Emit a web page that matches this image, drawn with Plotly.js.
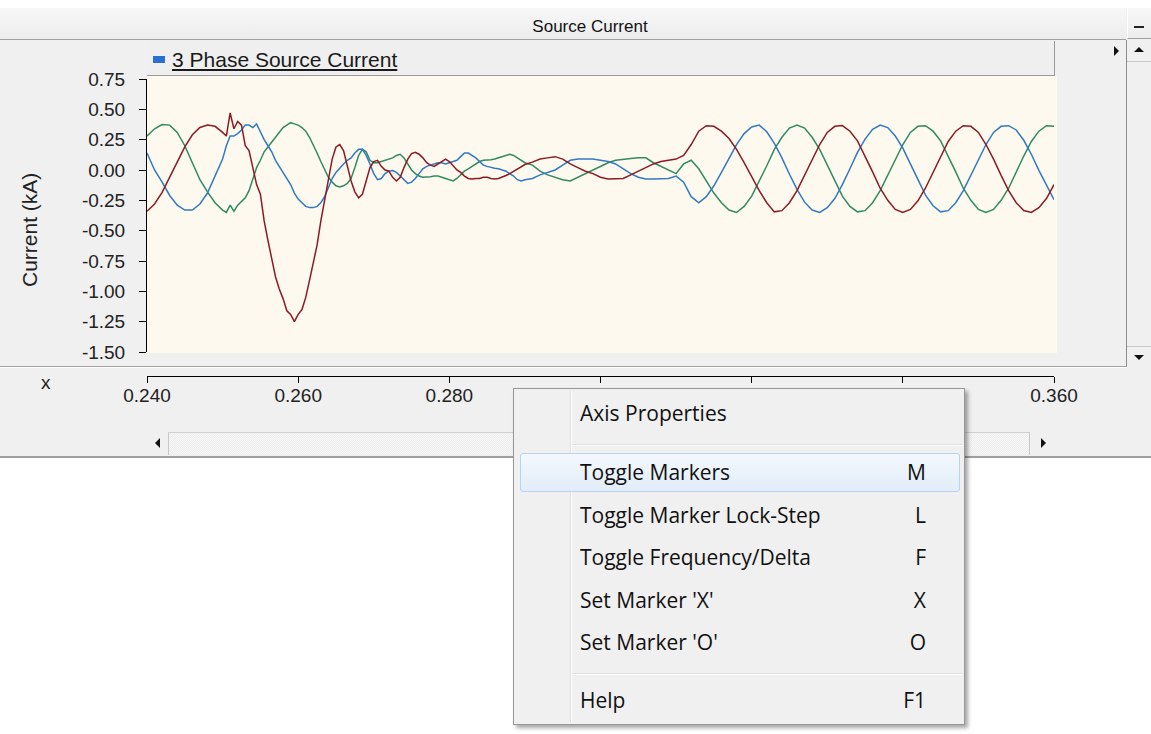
<!DOCTYPE html>
<html>
<head>
<meta charset="utf-8">
<script src="https://cdn.plot.ly/plotly-3.0.1.min.js"></script>
<style>
  html, body { margin:0; padding:0; }
  body { width:1151px; height:734px; position:relative; overflow:hidden; background:#ffffff; font-family:"Liberation Sans", Arial, sans-serif; }
  .abs { position:absolute; }
  #panel { left:0; top:8px; width:1151px; height:449px; background:#f0f0f0; }
  #titlebar { left:0; top:8px; width:1126px; height:31px; background:linear-gradient(#f8f8f8,#ececec); border-bottom:1px solid #a0a0a0; }
  #minbtn { left:1127px; top:8px; width:24px; height:31px; background:linear-gradient(#f8f8f8,#ececec); border-bottom:1px solid #a0a0a0; border-left:1px solid #ffffff; box-sizing:border-box; }
  #minbtn:after { content:""; position:absolute; left:6px; top:18px; width:10px; height:2px; background:#222; }
  #legendbar { left:147px; top:41px; width:907px; height:34px; background:#efefef; border-right:1px solid #9a9a9a; border-bottom:1px solid #9a9a9a; }
  #legendsw { left:153px; top:56px; width:12px; height:7px; background:#2d6fd1; }
  #legendtxt { left:172px; top:48px; font-size:21px; color:#1a1a1a; text-decoration:underline; white-space:nowrap; line-height:24px; }
  #cream { left:147px; top:76px; width:910px; height:277px; background:#fef9ee; }
  #vscroll { left:1126px; top:40px; width:25px; height:327px; background:#f0f0f0; border-left:1px solid #8c8c8c; box-sizing:border-box; }
  #vup { left:1127px; top:40px; width:24px; height:22px; border-bottom:1px solid #c8c8c8; box-sizing:border-box; }
  #vdn { left:1127px; top:346px; width:24px; height:21px; border-top:1px solid #c8c8c8; box-sizing:border-box; }
  .tri-up { width:0; height:0; border-left:5px solid transparent; border-right:5px solid transparent; border-bottom:5px solid #111; }
  .tri-dn { width:0; height:0; border-left:5px solid transparent; border-right:5px solid transparent; border-top:5px solid #111; }
  .tri-r { width:0; height:0; border-top:5px solid transparent; border-bottom:5px solid transparent; border-left:5px solid #111; }
  .tri-l { width:0; height:0; border-top:5px solid transparent; border-bottom:5px solid transparent; border-right:5px solid #111; }
  #sep1 { left:0; top:366px; width:1127px; height:1px; background:#a0a0a0; }
  #sep1b { left:0; top:367px; width:1127px; height:1px; background:#ffffff; }
  #hscroll { left:147px; top:432px; width:910px; height:23px; background:#f4f4f4; border-top:1px solid #d0d0d0; box-sizing:border-box;
             background-image:repeating-conic-gradient(#ececec 0 25%, #f8f8f8 0 50%); background-size:2px 2px; }
  #hleft { left:147px; top:432px; width:22px; height:23px; background:#f0f0f0; border-right:1px solid #c8c8c8; box-sizing:border-box; }
  #hright { left:1029px; top:432px; width:28px; height:23px; background:#f0f0f0; border-left:1px solid #c8c8c8; box-sizing:border-box; }
  #botline { left:0; top:456px; width:1151px; height:2px; background:#a0a0a0; }
  #plot { left:0; top:0; width:1151px; height:734px; z-index:2; }
  #menu { left:513px; top:388px; width:452px; height:337px; background:#f0f0f0; border:1px solid #979797; box-sizing:border-box; box-shadow:3px 3px 4px rgba(0,0,0,0.35); z-index:5; font-family:"Open Sans","Noto Sans",sans-serif; font-size:21px; color:#111; }
  #gutter1 { left:56px; top:2px; width:1px; height:331px; background:#e0e0e0; }
  #gutter2 { left:57px; top:2px; width:1px; height:331px; background:#ffffff; }
  .msep { position:absolute; left:58px; width:390px; height:1px; background:#e0e0e0; }
  .msep2 { position:absolute; left:58px; width:390px; height:1px; background:#ffffff; }
  #hl { left:6px; top:64px; width:440px; height:39px; border:1px solid #b5d3f2; border-radius:3px; box-sizing:border-box; background:linear-gradient(#f3f8fd,#e2edf9); }
  .mi { position:absolute; left:66px; height:30px; line-height:30px; white-space:nowrap; }
  .mk { position:absolute; right:38px; height:30px; line-height:30px; white-space:nowrap; }
</style>
</head>
<body>
<div id="panel" class="abs"></div>
<div id="titlebar" class="abs"></div>
<div id="minbtn" class="abs"></div>
<div id="legendbar" class="abs"></div>
<div id="legendsw" class="abs"></div>
<div id="legendtxt" class="abs">3 Phase Source Current</div>
<div id="cream" class="abs"></div>
<div id="vscroll" class="abs"></div>
<div id="vup" class="abs"><div class="tri-up abs" style="left:7px;top:7px"></div></div>
<div id="vdn" class="abs"><div class="tri-dn abs" style="left:7px;top:8px"></div></div>
<div class="tri-r abs" style="left:1114px;top:46px"></div>
<div id="sep1" class="abs"></div>
<div id="sep1b" class="abs"></div>
<div id="hscroll" class="abs"></div>
<div id="hleft" class="abs"><div class="tri-l abs" style="left:8px;top:6px"></div></div>
<div id="hright" class="abs"><div class="tri-r abs" style="left:11px;top:6px"></div></div>
<div id="botline" class="abs"></div>
<div id="plot" class="abs"></div>

<div id="menu" class="abs">
  <div id="gutter1" class="abs"></div>
  <div id="gutter2" class="abs"></div>
  <div class="mi" style="top:9px">Axis Properties</div>
  <div class="msep" style="top:55px"></div><div class="msep2" style="top:56px"></div>
  <div id="hl" class="abs"></div>
  <div class="mi" style="top:68px">Toggle Markers</div><div class="mk" style="top:68px">M</div>
  <div class="mi" style="top:111px">Toggle Marker Lock-Step</div><div class="mk" style="top:111px">L</div>
  <div class="mi" style="top:153px">Toggle Frequency/Delta</div><div class="mk" style="top:153px">F</div>
  <div class="mi" style="top:196px">Set Marker 'X'</div><div class="mk" style="top:196px">X</div>
  <div class="mi" style="top:238px">Set Marker 'O'</div><div class="mk" style="top:238px">O</div>
  <div class="msep" style="top:284px"></div><div class="msep2" style="top:285px"></div>
  <div class="mi" style="top:296px">Help</div><div class="mk" style="top:296px">F1</div>
</div>

<script>
// ---- data (time in seconds, current in kA) ----
const time = [
  0.240,0.241,0.242,0.243,0.244,0.245,0.246,0.247,0.248,0.249,0.250,
  0.2505,0.2510,0.2515,0.2520,0.2525,0.2530,0.2535,0.2540,0.2545,0.2550,
  0.2555,0.2560,0.2565,0.2570,0.2575,0.2580,0.2585,0.2590,0.2595,0.2600,
  0.2605,0.2610,0.2615,0.2620,0.2625,0.2630,0.2635,0.2640,0.2645,0.2650,
  0.2655,0.2660,0.2665,0.2670,0.2675,0.2680,0.2685,0.2690,0.2695,0.2700,
  0.2705,0.2710,0.2715,0.2720,0.2725,0.2730,0.2735,0.2740,0.2745,0.2750,
  0.2755,0.2760,0.2765,0.2770,0.2775,0.2780,0.2785,0.2790,0.2795,0.2800,
  0.2805,0.2810,0.2815,0.2820,0.2825,0.2830,0.2835,0.2840,0.2845,0.2850,
  0.2855,0.2860,0.2865,0.2870,0.2875,0.2880,0.2885,0.2890,0.2895,0.2900,
  0.291,0.292,0.293,0.294,0.295,0.296,0.297,0.298,0.299,0.300,
  0.301,0.302,0.303,0.304,0.305,0.306,0.307,0.308,0.309,0.310,
  0.311,0.312,0.313,0.314,0.315,0.316,0.317,0.318,0.319,0.320,
  0.321,0.322,0.323,0.324,0.325,0.326,0.327,0.328,0.329,0.330,
  0.331,0.332,0.333,0.334,0.335,0.336,0.337,0.338,0.339,0.340,
  0.341,0.342,0.343,0.344,0.345,0.346,0.347,0.348,0.349,0.350,
  0.351,0.352,0.353,0.354,0.355,0.356,0.357,0.358,0.359,0.360
];
const phaseRed = [
  -0.34,-0.28,-0.185,-0.06,0.07,0.19,0.29,0.35,0.37,0.36,0.31,
  0.28,0.47,0.34,0.40,0.37,0.20,0.16,0.02,-0.12,-0.20,
  -0.42,-0.58,-0.74,-0.88,-0.98,-1.06,-1.16,-1.19,-1.25,-1.19,
  -1.15,-1.05,-0.91,-0.76,-0.62,-0.42,-0.24,-0.06,0.09,0.19,
  0.21,0.16,0.03,-0.09,-0.18,-0.23,-0.20,-0.09,0.02,0.07,
  0.08,0.03,0.00,-0.01,-0.06,-0.09,-0.06,0.02,0.09,0.135,
  0.145,0.13,0.10,0.06,0.04,0.03,0.05,0.07,0.09,0.07,
  0.03,0.00,-0.02,-0.05,-0.07,-0.075,-0.07,-0.07,-0.06,-0.06,
  -0.07,-0.075,-0.07,-0.06,-0.045,-0.03,-0.01,0.01,0.03,0.045,
  0.065,0.09,0.10,0.11,0.09,0.05,0.02,-0.01,-0.03,-0.06,
  -0.075,-0.075,-0.07,-0.04,-0.01,0.02,0.05,0.07,0.08,0.09,
  0.12,0.21,0.32,0.365,0.36,0.32,0.26,0.17,0.06,-0.06,
  -0.17,-0.27,-0.345,-0.335,-0.27,-0.17,-0.044,0.09,0.21,0.31,
  0.36,0.366,0.32,0.24,0.115,-0.015,-0.15,-0.25,-0.325,-0.35,
  -0.325,-0.254,-0.148,-0.017,0.115,0.235,0.32,0.365,0.36,0.31,
  0.21,0.09,-0.044,-0.17,-0.27,-0.334,-0.35,-0.31,-0.235,-0.12
];
const phaseGreen = [
  0.28,0.34,0.375,0.37,0.31,0.20,0.06,-0.08,-0.18,-0.27,-0.33,
  -0.35,-0.29,-0.34,-0.29,-0.26,-0.23,-0.17,-0.07,0.02,0.08,
  0.15,0.19,0.23,0.28,0.32,0.35,0.37,0.39,0.38,0.37,
  0.35,0.32,0.27,0.21,0.14,0.07,0.01,-0.06,-0.10,-0.13,
  -0.14,-0.13,-0.11,-0.07,0.02,0.12,0.17,0.15,0.08,0.06,
  0.06,0.07,0.08,0.09,0.10,0.12,0.13,0.10,0.05,0.00,
  -0.03,-0.05,-0.06,-0.06,-0.055,-0.05,-0.05,-0.06,-0.07,-0.08,
  -0.09,-0.07,-0.04,-0.01,0.01,0.03,0.05,0.07,0.08,0.08,
  0.085,0.09,0.10,0.11,0.12,0.13,0.12,0.10,0.08,0.06,
  0.04,-0.01,-0.04,-0.06,-0.08,-0.09,-0.06,-0.03,0.00,0.03,
  0.06,0.08,0.09,0.095,0.10,0.10,0.06,0.03,0.00,-0.03,
  0.05,0.08,0.01,-0.09,-0.19,-0.27,-0.33,-0.35,-0.30,-0.215,
  -0.095,0.035,0.17,0.27,0.345,0.37,0.345,0.27,0.17,0.04,
  -0.095,-0.215,-0.30,-0.345,-0.335,-0.27,-0.17,-0.045,0.09,0.21,
  0.31,0.36,0.365,0.32,0.24,0.115,-0.015,-0.15,-0.25,-0.325,
  -0.35,-0.325,-0.25,-0.15,-0.015,0.115,0.235,0.32,0.365,0.36
];
const phaseBlue = [
  0.14,0.00,-0.10,-0.21,-0.29,-0.33,-0.33,-0.28,-0.19,-0.05,0.09,
  0.20,0.28,0.28,0.30,0.33,0.37,0.37,0.35,0.38,0.31,
  0.25,0.20,0.15,0.08,0.03,-0.02,-0.07,-0.12,-0.19,-0.24,
  -0.27,-0.30,-0.31,-0.31,-0.30,-0.27,-0.22,-0.14,-0.07,-0.02,
  0.02,0.05,0.08,0.10,0.14,0.17,0.17,0.12,0.05,-0.03,
  -0.08,-0.07,-0.03,-0.01,-0.005,-0.02,-0.05,-0.08,-0.11,-0.10,
  -0.07,-0.03,0.01,0.03,0.04,0.05,0.06,0.06,0.05,0.06,
  0.07,0.08,0.11,0.14,0.14,0.12,0.10,0.07,0.04,0.03,
  0.02,0.015,0.01,0.00,-0.01,-0.03,-0.05,-0.08,-0.09,-0.08,
  -0.07,-0.04,-0.02,0.00,0.04,0.08,0.09,0.09,0.09,0.08,
  0.07,0.05,0.01,-0.03,-0.06,-0.075,-0.075,-0.075,-0.07,-0.05,
  -0.10,-0.22,-0.27,-0.22,-0.13,-0.02,0.10,0.21,0.30,0.355,
  0.37,0.315,0.22,0.10,-0.035,-0.16,-0.265,-0.33,-0.35,-0.31,
  -0.235,-0.12,0.01,0.145,0.255,0.335,0.37,0.35,0.28,0.18,
  0.05,-0.083,-0.207,-0.295,-0.345,-0.335,-0.27,-0.17,-0.045,0.09,
  0.21,0.31,0.36,0.365,0.33,0.245,0.13,-0.003,-0.13,-0.245
];
// tick labels 0.300-0.340 are hidden behind the context menu in the reference
const xTickVals = [0.24,0.26,0.28,0.30,0.32,0.34,0.36];
const xTickText = ['0.240','0.260','0.280','','','','0.360'];
const yTickVals = [0.75,0.5,0.25,0,-0.25,-0.5,-0.75,-1.0,-1.25,-1.5];
const yTickText = ['0.75','0.50','0.25','0.00','-0.25','-0.50','-0.75','-1.00','-1.25','-1.50'];

// ---- layout geometry (pixels) ----
const W = 1151, H = 734;
const PL = 147, PR = 1054, PT = 79, PB = 376, YB = 352;
const fx = px => (px - PL) / (PR - PL);
const fy = py => (PB - py) / (PB - PT);
const FONT = '"Liberation Sans", Arial, sans-serif';

const traces = [
  {x: time, y: phaseGreen, name: 'Phase B', mode: 'lines', line: {color: '#2f8a62', width: 1.5}},
  {x: time, y: phaseBlue,  name: 'Phase C', mode: 'lines', line: {color: '#3079c4', width: 1.5}},
  {x: time, y: phaseRed,   name: 'Phase A', mode: 'lines', line: {color: '#8c1a22', width: 1.5}}
];

const layout = {
  width: W, height: H,
  margin: {l: PL, r: W - PR, t: PT, b: H - PB, pad: 0},
  paper_bgcolor: 'rgba(0,0,0,0)',
  plot_bgcolor: 'rgba(0,0,0,0)',
  showlegend: false,
  font: {family: FONT, color: '#1a1a1a'},
  title: {text: 'Source Current', xref: 'container', yref: 'container',
          x: 590 / W, y: 1 - 26 / H, xanchor: 'center', yanchor: 'middle',
          font: {family: FONT, size: 17, color: '#111'}},
  xaxis: {range: [0.24, 0.36], tickvals: xTickVals, ticktext: xTickText,
          ticks: 'outside', ticklen: 6, tickwidth: 1, tickcolor: '#000',
          showline: true, linecolor: '#000', linewidth: 1,
          showgrid: false, zeroline: false, anchor: 'free', position: 0,
          ticklabelstandoff: -4,
          tickfont: {family: FONT, size: 19, color: '#222'}, fixedrange: true},
  yaxis: {domain: [fy(YB), 1], range: [-1.5, 0.75], tickvals: yTickVals, ticktext: yTickText,
          ticks: 'outside', ticklen: 7, tickwidth: 1, tickcolor: '#000',
          showline: true, linecolor: '#000', linewidth: 1,
          showgrid: false, zeroline: false, ticklabelstandoff: 10,
          tickfont: {family: FONT, size: 19, color: '#222'}, fixedrange: true},
  annotations: [
    {text: 'Current (kA)', textangle: -90, xref: 'paper', yref: 'paper',
     x: fx(29), y: fy(230), xanchor: 'center', yanchor: 'middle', showarrow: false,
     font: {family: FONT, size: 21, color: '#222'}},
    {text: 'x', xref: 'paper', yref: 'paper', x: fx(46), y: fy(382),
     xanchor: 'center', yanchor: 'middle', showarrow: false,
     font: {family: FONT, size: 19, color: '#222'}}
  ]
};

Plotly.newPlot('plot', traces, layout, {displayModeBar: false, staticPlot: true});
</script>
</body>
</html>
